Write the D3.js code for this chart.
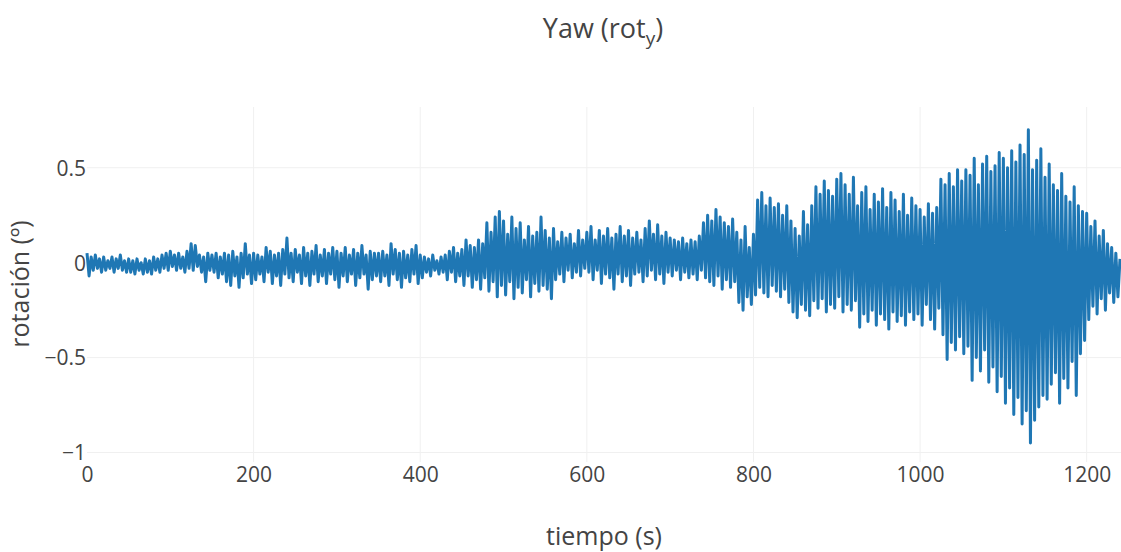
<!DOCTYPE html>
<html>
<head>
<meta charset="utf-8">
<script src="https://cdn.jsdelivr.net/npm/d3@7"></script>
<style>
  body { margin: 0; background: #fff; }
  svg { display: block; }
  text { font-family: "Open Sans", sans-serif; fill: #444; }
</style>
</head>
<body>
<svg id="chart" width="1121" height="552"></svg>
<script>
// Yaw rotation signal, one sample every 2.5 s (degrees); one row = 50 s
const sampleStep = 2.5;
const rotation = [
  0.05, -0.07, 0.03, -0.04, 0.04, -0.03, 0.02, -0.05, 0.03, -0.04, 0.01, -0.03, 0.03, -0.05, 0.02, -0.03, 0.04, -0.04, 0.01, -0.05,
  0.02, -0.05, 0.01, -0.06, 0.02, -0.04, 0.00, -0.06, 0.02, -0.05, 0.01, -0.06, 0.03, -0.04, 0.02, -0.05, 0.04, -0.03, 0.05, -0.04,
  0.06, -0.02, 0.04, -0.04, 0.05, -0.03, 0.03, -0.05, 0.06, -0.03, 0.10, -0.04, 0.09, -0.02, 0.04, -0.05, 0.03, -0.10, 0.05, -0.04,
  0.04, -0.05, 0.05, -0.08, 0.03, -0.06, 0.05, -0.10, 0.04, -0.12, 0.06, -0.07, 0.03, -0.13, 0.05, -0.08, 0.10, -0.06, 0.04, -0.11,
  0.05, -0.09, 0.04, -0.06, 0.03, -0.10, 0.08, -0.05, 0.06, -0.11, 0.04, -0.07, 0.05, -0.12, 0.07, -0.06, 0.13, -0.08, 0.05, -0.10,
  0.07, -0.05, 0.04, -0.11, 0.08, -0.07, 0.05, -0.12, 0.06, -0.06, 0.09, -0.10, 0.04, -0.07, 0.07, -0.11, 0.05, -0.06, 0.08, -0.09,
  0.06, -0.13, 0.05, -0.07, 0.08, -0.10, 0.04, -0.06, 0.07, -0.12, 0.05, -0.08, 0.09, -0.06, 0.04, -0.14, 0.06, -0.09, 0.05, -0.07,
  0.05, -0.10, 0.06, -0.07, 0.04, -0.12, 0.10, -0.06, 0.07, -0.09, 0.05, -0.13, 0.06, -0.08, 0.04, -0.10, 0.07, -0.06, 0.09, -0.11,
  0.04, -0.08, 0.03, -0.05, 0.02, -0.07, 0.04, -0.04, 0.01, -0.06, 0.03, -0.05, 0.04, -0.09, 0.06, -0.05, 0.08, -0.10, 0.05, -0.07,
  0.07, -0.12, 0.12, -0.07, 0.09, -0.13, 0.08, -0.09, 0.12, -0.14, 0.10, -0.08, 0.21, -0.15, 0.16, -0.10, 0.24, -0.18, 0.27, -0.12,
  0.22, -0.17, 0.15, -0.10, 0.24, -0.19, 0.18, -0.13, 0.21, -0.16, 0.12, -0.09, 0.19, -0.18, 0.14, -0.11, 0.16, -0.15, 0.24, -0.12,
  0.17, -0.14, 0.13, -0.19, 0.18, -0.09, 0.11, -0.06, 0.16, -0.10, 0.13, -0.04, 0.15, -0.08, 0.10, -0.05, 0.17, -0.07, 0.12, -0.03,
  0.16, -0.05, 0.19, -0.09, 0.12, -0.04, 0.17, -0.11, 0.14, -0.06, 0.18, -0.08, 0.13, -0.14, 0.15, -0.06, 0.19, -0.10, 0.14, -0.07,
  0.17, -0.12, 0.13, -0.06, 0.16, -0.05, 0.12, -0.10, 0.18, -0.07, 0.22, -0.04, 0.15, -0.09, 0.20, -0.06, 0.14, -0.11, 0.16, -0.05,
  0.13, -0.07, 0.12, -0.04, 0.11, -0.09, 0.13, -0.05, 0.10, -0.08, 0.12, -0.06, 0.11, -0.09, 0.14, -0.04, 0.21, -0.08, 0.25, -0.10,
  0.22, -0.12, 0.28, -0.07, 0.24, -0.14, 0.21, -0.09, 0.19, -0.13, 0.23, -0.10, 0.16, -0.21, 0.12, -0.25, 0.19, -0.18, 0.08, -0.22,
  0.15, -0.17, 0.33, -0.13, 0.37, -0.16, 0.30, -0.18, 0.34, -0.12, 0.29, -0.15, 0.31, -0.18, 0.25, -0.14, 0.30, -0.21, 0.22, -0.26,
  0.18, -0.29, 0.14, -0.22, 0.27, -0.25, 0.20, -0.28, 0.30, -0.20, 0.40, -0.24, 0.36, -0.19, 0.43, -0.26, 0.38, -0.22, 0.35, -0.24,
  0.44, -0.18, 0.47, -0.26, 0.41, -0.22, 0.36, -0.25, 0.45, -0.20, 0.30, -0.34, 0.37, -0.27, 0.40, -0.31, 0.28, -0.25, 0.36, -0.33,
  0.32, -0.27, 0.39, -0.30, 0.29, -0.35, 0.37, -0.26, 0.33, -0.31, 0.27, -0.28, 0.36, -0.33, 0.25, -0.26, 0.34, -0.30, 0.30, -0.27,
  0.28, -0.33, 0.24, -0.22, 0.31, -0.30, 0.26, -0.35, 0.29, -0.24, 0.44, -0.38, 0.41, -0.51, 0.47, -0.42, 0.40, -0.46, 0.49, -0.39,
  0.43, -0.48, 0.49, -0.44, 0.46, -0.62, 0.55, -0.50, 0.41, -0.57, 0.52, -0.46, 0.56, -0.63, 0.48, -0.55, 0.51, -0.68, 0.58, -0.60,
  0.55, -0.74, 0.50, -0.66, 0.59, -0.80, 0.53, -0.71, 0.62, -0.85, 0.57, -0.78, 0.70, -0.95, 0.49, -0.83, 0.54, -0.76, 0.60, -0.70,
  0.45, -0.72, 0.52, -0.64, 0.41, -0.58, 0.38, -0.74, 0.47, -0.61, 0.35, -0.66, 0.32, -0.52, 0.40, -0.70, 0.30, -0.48, 0.27, -0.41,
  0.26, -0.30, 0.19, -0.23, 0.22, -0.27, 0.14, -0.19, 0.17, -0.25, 0.10, -0.16, 0.08, -0.21, 0.05, -0.18, 0.02
];
const xTicks = [0, 200, 400, 600, 800, 1000, 1200];
const xTickLabels = ["0", "200", "400", "600", "800", "1000", "1200"];
const yTicks = [-1, -0.5, 0, 0.5];
const yTickLabels = ["\u22121", "\u22120.5", "0", "0.5"];
const titleMain = "Yaw (rot";
const titleSub = "y";
const titleEnd = ")";
const xTitle = "tiempo (s)";
const yTitle = "rotación (º)";

const svg = d3.select("#chart");
const plot = { left: 87, right: 1121, top: 107, bottom: 462 };

const x = d3.scaleLinear().domain([0, 1240]).range([plot.left, 1120]);
const y = d3.scaleLinear().domain([-1.05, 0.82]).range([plot.bottom, plot.top]);

// light grid
const grid = svg.append("g");
grid.selectAll("line.gx").data(xTicks.filter(d => d !== 0)).enter().append("line")
  .attr("x1", d => x(d)).attr("x2", d => x(d))
  .attr("y1", plot.top).attr("y2", plot.bottom)
  .attr("stroke", "#f0f0f0").attr("stroke-width", 1);
grid.selectAll("line.gy").data(yTicks).enter().append("line")
  .attr("x1", plot.left).attr("x2", plot.right)
  .attr("y1", d => y(d)).attr("y2", d => y(d))
  .attr("stroke", "#f0f0f0").attr("stroke-width", 1);

// axes (labels only, no domain line)
const xAxis = d3.axisBottom(x).tickValues(xTicks).tickFormat((d, i) => xTickLabels[i]).tickSize(0).tickPadding(0);
const gx = svg.append("g").attr("transform", `translate(0,${plot.bottom})`).call(xAxis);
gx.select(".domain").remove();
gx.selectAll("text").attr("dy", null).attr("y", 20)
  .style("font-family", '"Open Sans", sans-serif').style("font-size", "21px").style("fill", "#444");

const yAxis = d3.axisLeft(y).tickValues(yTicks).tickFormat((d, i) => yTickLabels[i]).tickSize(0).tickPadding(0);
const gy = svg.append("g").attr("transform", `translate(${plot.left - 1},0)`).call(yAxis);
gy.select(".domain").remove();
gy.selectAll("text").attr("dy", "0.35em")
  .style("font-family", '"Open Sans", sans-serif').style("font-size", "21px").style("fill", "#444");

// signal trace
const line = d3.line()
  .x((d, i) => x(i * sampleStep))
  .y(d => y(d));
svg.append("path")
  .datum(rotation)
  .attr("d", line)
  .attr("fill", "none")
  .attr("stroke", "#1f77b4")
  .attr("stroke-width", 3)
  .attr("stroke-linejoin", "round");

// titles
const t = svg.append("text").attr("x", 603).attr("y", 38)
  .attr("text-anchor", "middle").style("font-size", "27px");
t.append("tspan").text(titleMain);
t.append("tspan").attr("dy", 7).style("font-size", "19px").text(titleSub);
t.append("tspan").attr("dy", -7).text(titleEnd);

svg.append("text").attr("x", 604).attr("y", 545)
  .attr("text-anchor", "middle").style("font-size", "25px").text(xTitle);

svg.append("text").attr("transform", "translate(29,284) rotate(-90)")
  .attr("text-anchor", "middle").style("font-size", "25px").text(yTitle);
</script>
</body>
</html>
